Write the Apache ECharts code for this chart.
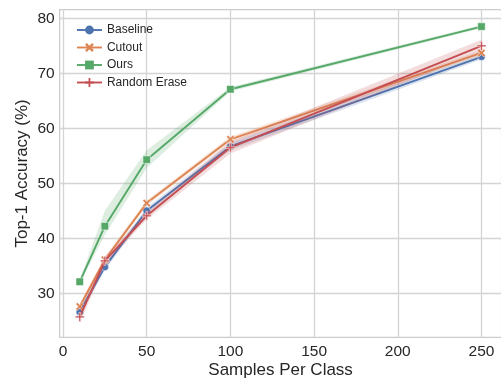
<!DOCTYPE html>
<html>
<head>
<meta charset="utf-8">
<script src="https://cdn.jsdelivr.net/npm/echarts@6/dist/echarts.min.js"></script>
<style>
html,body{margin:0;padding:0;background:#fff;}
#chart{width:501px;height:378px;}
</style>
</head>
<body>
<div id="chart"></div>
<script>
const xValues = [10, 25, 50, 100, 250];
const xTicks = [0, 50, 100, 150, 200, 250];
const yTicks = [30, 40, 50, 60, 70, 80];

const baseline   = [26.6, 34.8, 45.0, 56.7, 73.0];
const baselineLo = [25.9, 34.2, 44.4, 56.0, 72.5];
const baselineHi = [27.3, 35.4, 45.6, 57.4, 73.6];

const cutout   = [27.6, 36.1, 46.4, 58.0, 73.7];
const cutoutLo = [27.0, 35.5, 45.9, 57.5, 73.2];
const cutoutHi = [28.2, 36.7, 46.9, 58.5, 74.2];

const ours   = [32.1, 42.2, 54.3, 67.1, 78.5];
const oursLo = [31.8, 40.6, 52.8, 66.7, 78.2];
const oursHi = [32.4, 45.0, 56.0, 67.5, 78.8];

const randomErase   = [25.7, 35.9, 44.1, 56.5, 75.0];
const randomEraseLo = [24.5, 35.2, 43.4, 55.4, 73.9];
const randomEraseHi = [26.9, 36.6, 44.8, 57.6, 76.1];

const names = ['Baseline', 'Cutout', 'Ours', 'Random Erase'];
const colors = ['#4c72b0', '#dd8452', '#55a868', '#c44e52'];
const symbols = [
  'circle',
  'path://M2,0 L5,3 L8,0 L10,2 L7,5 L10,8 L8,10 L5,7 L2,10 L0,8 L3,5 L0,2 Z',
  'rect',
  'path://M4,0 H6 V4 H10 V6 H6 V10 H4 V6 H0 V4 H4 Z'
];
const symbolSizes = [7.5, 8, 7.5, 9];
const means = [baseline, cutout, ours, randomErase];
const lows = [baselineLo, cutoutLo, oursLo, randomEraseLo];
const highs = [baselineHi, cutoutHi, oursHi, randomEraseHi];

const pairs = arr => xValues.map((x, i) => [x, arr[i]]);

const series = [];
names.forEach((name, k) => {
  series.push({
    name: name + ' band', type: 'custom', silent: true, z: 1 + k * 2,
    data: xValues.map((x, i) => [x, lows[k][i], highs[k][i]]),
    encode: {x: 0, y: [1, 2]},
    renderItem: function (params, api) {
      if (params.dataIndex !== 0) return null;
      const pts = [];
      for (let i = 0; i < xValues.length; i++) pts.push(api.coord([xValues[i], highs[k][i]]));
      for (let i = xValues.length - 1; i >= 0; i--) pts.push(api.coord([xValues[i], lows[k][i]]));
      return {
        type: 'polygon',
        shape: {points: pts},
        style: {fill: colors[k], opacity: 0.2, stroke: null}
      };
    }
  });
  series.push({
    name: name, type: 'line', data: pairs(means[k]),
    symbol: symbols[k], symbolSize: symbolSizes[k], showSymbol: true,
    lineStyle: {color: colors[k], width: 1.9},
    itemStyle: {color: colors[k], borderColor: '#ffffff', borderWidth: 0.5},
    z: 2 + k * 2
  });
});

const chart = echarts.init(document.getElementById('chart'), null, {renderer: 'canvas'});
const font = '"Liberation Sans", Arial, sans-serif';
chart.setOption({
  animation: false,
  backgroundColor: '#ffffff',
  textStyle: {fontFamily: font},
  grid: {
    left: 59.65, top: 9.5, width: 441.9, height: 327.8,
    outerBoundsMode: 'none', containLabel: false,
    show: true, borderColor: '#cccccc', borderWidth: 1.25, backgroundColor: 'transparent'
  },
  legend: {
    data: names,
    orient: 'vertical', left: 71, top: 18,
    itemWidth: 25, itemHeight: 11, itemGap: 3.5,
    itemStyle: {borderWidth: 0},
    lineStyle: {width: 1.9},
    textStyle: {fontSize: 12, color: '#262626', fontFamily: font, lineHeight: 14}
  },
  xAxis: {
    type: 'value', min: -2, max: 262,
    name: 'Samples Per Class', nameLocation: 'middle', nameGap: 25, nameMoveOverlap: false,
    nameTextStyle: {fontSize: 17, color: '#262626', fontFamily: font},
    axisLine: {show: false},
    axisTick: {show: false, customValues: xTicks},
    axisLabel: {customValues: xTicks, fontSize: 15.5, color: '#262626', margin: 6, fontFamily: font},
    splitLine: {show: true, lineStyle: {color: '#d4d4d4', width: 1.3}}
  },
  yAxis: {
    type: 'value', min: 22.0, max: 81.6,
    name: 'Top-1 Accuracy (%)', nameLocation: 'middle', nameGap: 29, nameMoveOverlap: false,
    nameTextStyle: {fontSize: 17, color: '#262626', fontFamily: font},
    axisLine: {show: false},
    axisTick: {show: false, customValues: yTicks},
    axisLabel: {customValues: yTicks, fontSize: 15.5, color: '#262626', margin: 5, fontFamily: font},
    splitLine: {show: true, lineStyle: {color: '#d4d4d4', width: 1.3}}
  },
  series: series
});
</script>
</body>
</html>
